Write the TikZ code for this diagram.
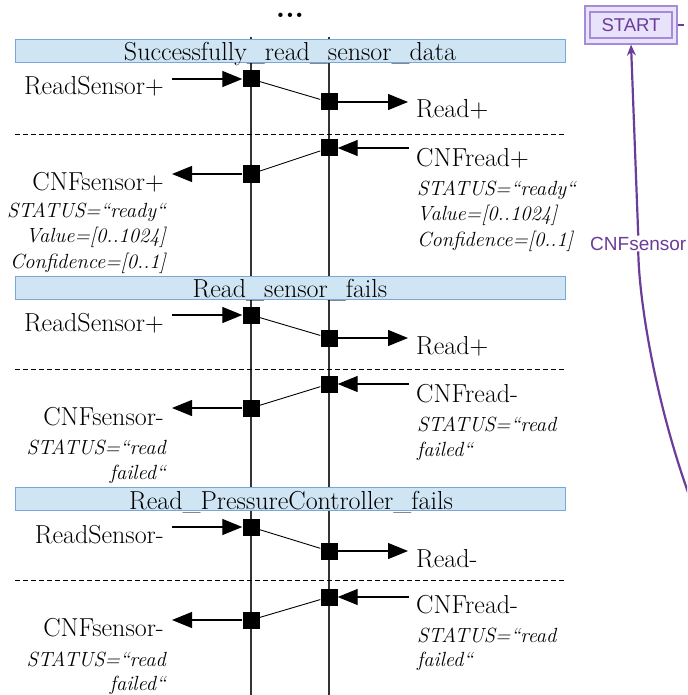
\documentclass[tikz,border=0pt]{standalone}
\usepackage{fontspec}
\newfontfamily\sansf{Liberation Sans}
\usetikzlibrary{arrows.meta}
\definecolor{bandfill}{HTML}{CFE5F3}
\definecolor{bandline}{HTML}{7AA7D6}
\definecolor{purp}{HTML}{6A3D9A}
\definecolor{startfill}{HTML}{E8E3FA}
\definecolor{startline}{HTML}{A68BD6}
\begin{document}
\begin{tikzpicture}[x=1pt,y=-1pt,
  sq/.style={fill=black,draw=none,minimum size=17pt,inner sep=0pt},
  band/.style={fill=bandfill,draw=bandline,line width=1pt,minimum width=550pt,minimum height=23pt,inner sep=0pt},
  ttl/.style={font=\fontsize{26}{30}\selectfont,inner sep=0pt,anchor=base},
  big/.style={font=\fontsize{26}{30}\selectfont,inner sep=0pt},
  attr/.style={font=\fontsize{20.5}{24}\selectfont\itshape,inner sep=0pt},
  life/.style={line width=1.4pt,black!80},
  msg/.style={-{Triangle[length=20pt,width=16pt]},line width=1.2pt},
  link/.style={line width=0.9pt},
  sep/.style={line width=0.8pt,dash pattern=on 5pt off 3pt},
  pline/.style={purp,line width=2.2pt},
]
\useasboundingbox (0,0) rectangle (687,695);
\clip (0,0) rectangle (687,695);

% dots
\node[font=\fontsize{30}{30}\selectfont\bfseries,inner sep=0pt,anchor=base] (dots) at (290,17.5) {...};

% lifelines
\coordinate (L1t) at (251,37); \coordinate (L1b) at (251,695);
\coordinate (L2t) at (329,37); \coordinate (L2b) at (329,695);
\draw[life] (L1t) -- (L1b);
\draw[life] (L2t) -- (L2b);

% ===== Section 1 =====
\node[band] (b1) at (290,51.5) {};
\node[ttl] (t1) at (290,61) {Successfully\_read\_sensor\_data};
\node[sq] (s1a) at (251,79) {};
\node[sq] (s1b) at (329,102) {};
\node[sq] (s1c) at (329,148) {};
\node[sq] (s1d) at (251,174) {};
\coordinate (i1a) at (172,79);
\coordinate (o1b) at (408,102);
\coordinate (i1c) at (409,148);
\coordinate (o1d) at (172,174);
\draw[msg] (i1a) -- (s1a.west);
\draw[link] (s1a) -- (s1b);
\draw[msg] (s1b.east) -- (o1b);
\coordinate (d1l) at (15,134); \coordinate (d1r) at (565,134);
\draw[sep] (d1l) -- (d1r);
\draw[msg] (i1c) -- (s1c.east);
\draw[link] (s1c) -- (s1d);
\draw[msg] (s1d.west) -- (o1d);
\node[big,anchor=base east] (rs1) at (164,95) {ReadSensor+};
\node[big,anchor=base west] (rd1) at (416,118) {Read+};
\node[big,anchor=base west] (cr1) at (416,167) {CNFread+};
\node[attr,anchor=base west] (cr1a) at (417,195) {STATUS=“ready“};
\node[attr,anchor=base west] (cr1b) at (417,220) {Value=[0..1024]};
\node[attr,anchor=base west] (cr1c) at (417,246) {Confidence=[0..1]};
\node[big,anchor=base east] (cs1) at (164,190) {CNFsensor+};
\node[attr,anchor=base east] (cs1a) at (166,217) {STATUS=“ready“};
\node[attr,anchor=base east] (cs1b) at (166,242) {Value=[0..1024]};
\node[attr,anchor=base east] (cs1c) at (166,268) {Confidence=[0..1]};

% ===== Section 2 =====
\node[band] (b2) at (290,287.5) {};
\node[ttl] (t2) at (290,297) {Read\_sensor\_fails};
\node[sq] (s2a) at (251,315) {};
\node[sq] (s2b) at (329,338) {};
\node[sq] (s2c) at (329,384) {};
\node[sq] (s2d) at (251,408) {};
\coordinate (i2a) at (172,315);
\coordinate (o2b) at (408,338);
\coordinate (i2c) at (409,384);
\coordinate (o2d) at (172,408);
\draw[msg] (i2a) -- (s2a.west);
\draw[link] (s2a) -- (s2b);
\draw[msg] (s2b.east) -- (o2b);
\coordinate (d2l) at (15,369); \coordinate (d2r) at (565,369);
\draw[sep] (d2l) -- (d2r);
\draw[msg] (i2c) -- (s2c.east);
\draw[link] (s2c) -- (s2d);
\draw[msg] (s2d.west) -- (o2d);
\node[big,anchor=base east] (rs2) at (164,331) {ReadSensor+};
\node[big,anchor=base west] (rd2) at (416,354) {Read+};
\node[big,anchor=base west] (cr2) at (416,402) {CNFread-};
\node[attr,anchor=base west] (cr2a) at (417,431) {STATUS=“read};
\node[attr,anchor=base west] (cr2b) at (417,456) {failed“};
\node[big,anchor=base east] (cs2) at (164,425) {CNFsensor-};
\node[attr,anchor=base east] (cs2a) at (166,454) {STATUS=“read};
\node[attr,anchor=base east] (cs2b) at (166,479) {failed“};

% ===== Section 3 =====
\node[band] (b3) at (290,499) {};
\node[ttl] (t3) at (291,509) {Read\_PressureController\_fails};
\node[sq] (s3a) at (251,527) {};
\node[sq] (s3b) at (329,551) {};
\node[sq] (s3c) at (329,597) {};
\node[sq] (s3d) at (251,620) {};
\coordinate (i3a) at (172,527);
\coordinate (o3b) at (408,551);
\coordinate (i3c) at (409,597);
\coordinate (o3d) at (172,620);
\draw[msg] (i3a) -- (s3a.west);
\draw[link] (s3a) -- (s3b);
\draw[msg] (s3b.east) -- (o3b);
\coordinate (d3l) at (15,580); \coordinate (d3r) at (565,580);
\draw[sep] (d3l) -- (d3r);
\draw[msg] (i3c) -- (s3c.east);
\draw[link] (s3c) -- (s3d);
\draw[msg] (s3d.west) -- (o3d);
\node[big,anchor=base east] (rs3) at (164,543) {ReadSensor-};
\node[big,anchor=base west] (rd3) at (416,567) {Read-};
\node[big,anchor=base west] (cr3) at (416,613) {CNFread-};
\node[attr,anchor=base west] (cr3a) at (417,642) {STATUS=“read};
\node[attr,anchor=base west] (cr3b) at (417,666) {failed“};
\node[big,anchor=base east] (cs3) at (164,636) {CNFsensor-};
\node[attr,anchor=base east] (cs3a) at (166,666) {STATUS=“read};
\node[attr,anchor=base east] (cs3b) at (166,690) {failed“};

% ===== START state machine fragment =====
\node[fill=startfill,draw=startline,line width=1.2pt,minimum width=92pt,minimum height=38pt,inner sep=0pt] (startout) at (631,25) {};
\node[draw=startline,line width=1.2pt,minimum width=82pt,minimum height=26pt,inner sep=0pt,font=\sansf\fontsize{18.5}{21}\selectfont,text=purp] (start) at (631,25) {START};
\coordinate (stub) at (684,25);
\draw[pline] (startout.east) -- (stub);
\node[font=\sansf\fontsize{19}{21}\selectfont,text=purp,fill=white,inner sep=1pt,anchor=base west] (cnfl) at (589,250) {CNFsensor};
\coordinate (pe) at (689,495);
\draw[pline] (pe) .. controls (655,400) and (639,300) .. (cnfl.south);
\draw[pline,-{Stealth[length=11pt,width=9pt]}] (cnfl.north) -- (startout.south);
\end{tikzpicture}
\end{document}
